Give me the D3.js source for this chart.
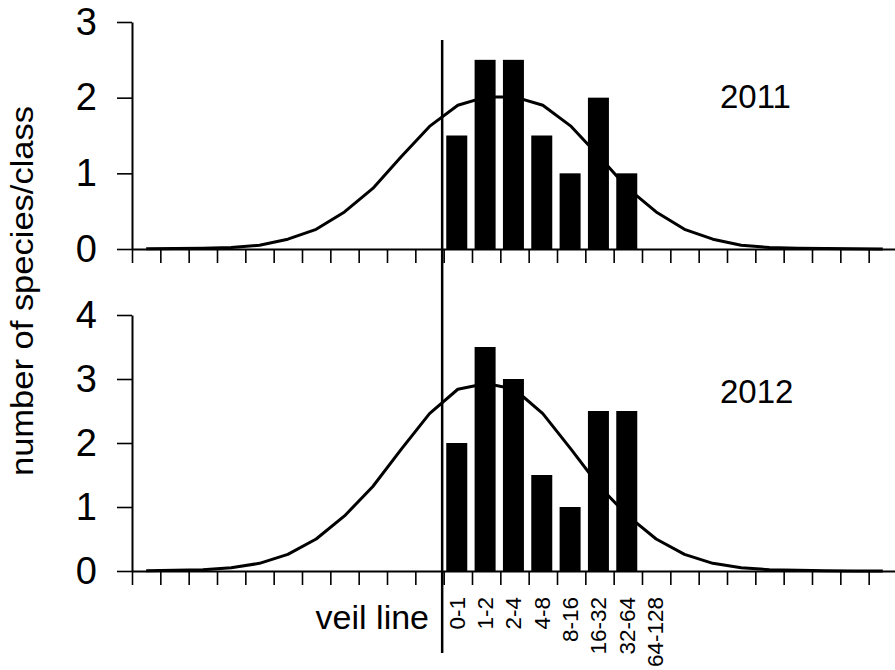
<!DOCTYPE html>
<html>
<head>
<meta charset="utf-8">
<script src="https://cdn.jsdelivr.net/npm/d3@7"></script>
<style>
  body { margin: 0; background: #fff; }
  text { font-family: "Liberation Sans", Arial, sans-serif; fill: #000; }
</style>
</head>
<body>
<div id="chart"></div>
<script>
// octave classes, veil line sits at octave 0
var octaves = [-11, -10, -9, -8, -7, -6, -5, -4, -3, -2, -1, 0, 1, 2, 3, 4, 5, 6, 7, 8, 9, 10, 11, 12, 13, 14, 15];
var sizeClasses = ["0-1", "1-2", "2-4", "4-8", "8-16", "16-32", "32-64", "64-128"];

var bars2011 = [1.5, 2.5, 2.5, 1.5, 1, 2, 1];
var bars2012 = [2, 3.5, 3, 1.5, 1, 2.5, 2.5];

// fitted (truncated lognormal) curves
var curve2011 = [0.003, 0.005, 0.01, 0.02, 0.05, 0.13, 0.26, 0.49, 0.8, 1.22, 1.62, 1.9, 2.01, 2.01, 1.9, 1.62, 1.22, 0.8, 0.49, 0.26, 0.13, 0.05, 0.02, 0.01, 0.005, 0.003, 0];
var curve2012 = [0.005, 0.01, 0.02, 0.05, 0.12, 0.26, 0.5, 0.86, 1.32, 1.9, 2.46, 2.84, 2.93, 2.84, 2.46, 1.9, 1.32, 0.86, 0.5, 0.26, 0.12, 0.05, 0.02, 0.01, 0.005, 0, 0];

var yTicks2011 = [0, 1, 2, 3];
var yTicks2012 = [0, 1, 2, 3, 4];

var width = 895, height = 670;

var svg = d3.select("#chart").append("svg")
    .attr("width", width)
    .attr("height", height);

// shared x scale (octave position, bin i spans [i, i+1])
var x = d3.scaleLinear()
    .domain([-11, 16])
    .range([132, 897]);

var panels = [
  {year: "2011", bars: bars2011, curve: curve2011, ticks: yTicks2011, y0: 249, y1: 22, max: 3, labelY: 108},
  {year: "2012", bars: bars2012, curve: curve2012, ticks: yTicks2012, y0: 571, y1: 315, max: 4, labelY: 403}
];

panels.forEach(function(p) {
  var y = d3.scaleLinear().domain([0, p.max]).range([p.y0, p.y1]);
  var g = svg.append("g");

  // bars
  g.selectAll(".bar")
    .data(p.bars)
    .enter().append("rect")
    .attr("class", "bar")
    .attr("x", function(d, i) { return x(i) + 2.6; })
    .attr("width", 21)
    .attr("y", function(d) { return y(d); })
    .attr("height", function(d) { return p.y0 - y(d); })
    .attr("fill", "#000");

  // curve
  var line = d3.line()
    .x(function(d, i) { return x(octaves[i] + 0.5); })
    .y(function(d) { return y(d); });

  g.append("path")
    .datum(p.curve)
    .attr("d", line)
    .attr("fill", "none")
    .attr("stroke", "#000")
    .attr("stroke-width", 3)
    .attr("stroke-linejoin", "round");

  // axes
  var yAxis = d3.axisLeft(y)
    .tickValues(p.ticks)
    .tickFormat(d3.format("d"))
    .tickSize(15)
    .tickSizeOuter(0)
    .tickPadding(20);

  var xAxis = d3.axisBottom(x)
    .tickValues(d3.range(-11, 17))
    .tickFormat("")
    .tickSize(14)
    .tickSizeOuter(0);

  var ya = g.append("g")
    .attr("transform", "translate(" + x(-11) + ",0)")
    .call(yAxis);
  ya.selectAll("text").style("font-size", "38px").attr("font-family", null);

  var xa = g.append("g")
    .attr("transform", "translate(0," + p.y0 + ")")
    .call(xAxis);

  [ya, xa].forEach(function(a) {
    a.select(".domain").attr("stroke-width", 2);
    a.selectAll(".tick line").attr("stroke-width", 1.6);
  });

  g.append("text")
    .attr("x", 720)
    .attr("y", p.labelY)
    .style("font-size", "33px")
    .text(p.year);
});

// size class labels under the lower panel
svg.selectAll(".classLabel")
  .data(sizeClasses)
  .enter().append("text")
  .attr("class", "classLabel")
  .attr("transform", function(d, i) {
    return "translate(" + (x(i + 0.5) - 1) + ",597) rotate(-90)";
  })
  .attr("text-anchor", "end")
  .attr("dy", "0.35em")
  .style("font-size", "22.5px")
  .text(function(d) { return d; });

// veil line
svg.append("line")
  .attr("x1", x(0) - 1.5)
  .attr("x2", x(0) - 1.5)
  .attr("y1", 40)
  .attr("y2", 653)
  .attr("stroke", "#000")
  .attr("stroke-width", 2.5);

svg.append("text")
  .attr("x", 429)
  .attr("y", 629)
  .attr("text-anchor", "end")
  .style("font-size", "34px")
  .text("veil line");

// y axis title
svg.append("text")
  .attr("transform", "translate(33,291) rotate(-90)")
  .attr("text-anchor", "middle")
  .attr("textLength", 370)
  .attr("lengthAdjust", "spacingAndGlyphs")
  .style("font-size", "31px")
  .text("number of species/class");
</script>
</body>
</html>
